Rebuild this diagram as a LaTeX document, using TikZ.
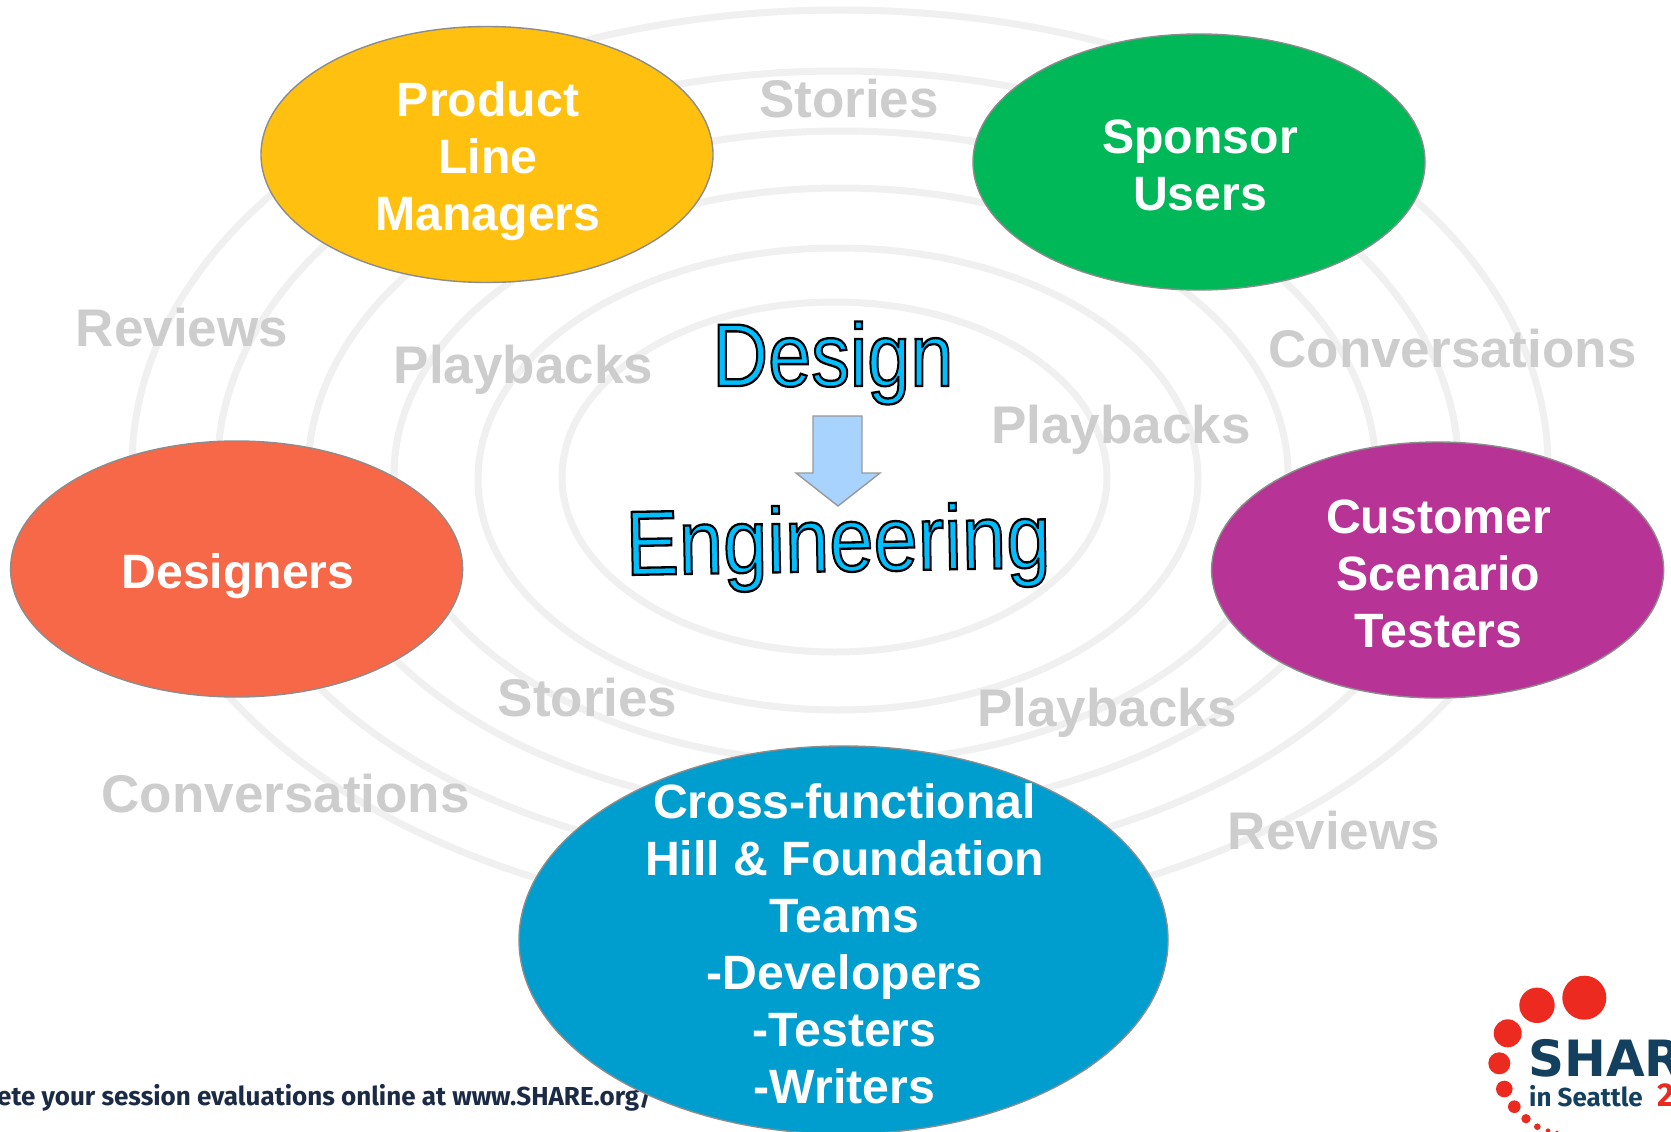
\documentclass[tikz,border=0pt]{standalone}
\usepackage{fontspec}
\setmainfont{Liberation Sans}
\newfontfamily\fira{Fira Sans}
\newfontfamily\dejavu{DejaVu Sans}
\usetikzlibrary{shapes.geometric}
\definecolor{ringc}{HTML}{F0F0F0}
\definecolor{lblc}{HTML}{CDCDCD}
\definecolor{ogold}{HTML}{FFC010}
\definecolor{ogreen}{HTML}{00B858}
\definecolor{ored}{HTML}{F66848}
\definecolor{opurple}{HTML}{B83396}
\definecolor{oblue}{HTML}{009DCF}
\definecolor{arrowc}{HTML}{A9D3FF}
\definecolor{foot}{HTML}{1C2B45}
\definecolor{logob}{HTML}{14405F}
\definecolor{logor}{HTML}{EC2A20}
\newcommand{\outl}[1]{\special{pdf:code q 2 Tr 2 w 0 0 0 RG 0 0.75 1 rg}#1\special{pdf:code Q}}
\tikzset{
  ring/.style={draw=ringc,line width=7pt},
  oval/.style={ellipse,draw=black!45,line width=1.4pt,inner sep=0pt,minimum width=452pt,minimum height=256pt},
  ovaltext/.style={text=white,align=center,inner sep=0pt,font=\fontsize{48.2}{57}\selectfont\bfseries},
  lbl/.style={text=lblc,inner sep=0pt,font=\fontsize{53}{60}\selectfont\bfseries},
  big/.style={inner sep=0pt,anchor=base west},
  dot/.style={fill=logor,draw=none}
}
\begin{document}
\begin{tikzpicture}[x=1pt,y=-1pt]
\useasboundingbox (0,0) rectangle (1671,1132);
\clip (0,0) rectangle (1671,1132);
\fill[white] (0,0) rectangle (1671,1132);
\draw[ring] (834.5,477) ellipse [x radius=272.5pt,y radius=175pt];
\draw[ring] (838,479) ellipse [x radius=360pt,y radius=231pt];
\draw[ring] (841,475) ellipse [x radius=447pt,y radius=287pt];
\draw[ring] (842,472.5) ellipse [x radius=534pt,y radius=341.5pt];
\draw[ring] (838,469) ellipse [x radius=620.5pt,y radius=398pt];
\draw[ring] (840,466) ellipse [x radius=708pt,y radius=456pt];
\node[lbl] (s1) at (849,99) {Stories};
\node[lbl] (r1) at (182,328) {Reviews};
\node[lbl] (p1) at (523.5,369.5) {Playbacks};
\node[lbl] (p2) at (1121,430) {Playbacks};
\node[lbl] (c1) at (1452.5,348.5) {Conversations};
\node[lbl] (s2) at (587.5,698) {Stories};
\node[lbl] (p3) at (1107,713) {Playbacks};
\node[lbl] (c2) at (285.6,794) {Conversations};
\node[lbl] (r2) at (1334,831) {Reviews};
\node[oval,fill=ogold] (pm) at (487,154.5) {};
\node[ovaltext] (pmt) at (488,161) {Product\\Line\\Managers};
\node[oval,fill=ogreen] (su) at (1199,162) {};
\node[ovaltext] (sut) at (1200,165) {Sponsor\\Users};
\node[oval,fill=ored] (de) at (236.6,569) {};
\node[ovaltext] (det) at (238,576) {Designers};
\node[oval,fill=opurple] (cu) at (1437.6,570) {};
\node[ovaltext] (cut) at (1438.6,574) {Customer\\Scenario\\Testers};
\node[big,text=foot,font=\fontsize{26}{32}\selectfont\fira\bfseries] (foot) at (-3,1105) {ete your session evaluations online at www.SHARE.org/};
\node[oval,fill=oblue,minimum width=649pt,minimum height=388pt] (cf) at (843.5,940) {};
\node[ovaltext] (cft) at (844.5,943.5) {Cross-functional\\Hill \& Foundation\\Teams\\-Developers\\-Testers\\-Writers};
\node[big,font=\fontsize{77.5}{90}\selectfont] (dsg) at (712,386) {\scalebox{1}[1.15]{\outl{Design}}};
\node[big,font=\fontsize{79.6}{90}\selectfont,rotate=1] (eng) at (626,575) {\scalebox{1}[1.15]{\outl{Engineering}}};
\draw[draw=black!40,fill=arrowc,line width=1.4pt,line join=miter]
  (813,416) -- (862,416) -- (862,473) -- (880,473) -- (838,506) -- (796,473) -- (813,473) -- cycle;
\fill[dot] (1584.3,997.7) circle (22);
\fill[dot] (1537,1005.3) circle (17.7);
\fill[dot] (1507.7,1033.3) circle (14);
\fill[dot] (1499.3,1063.3) circle (11);
\fill[dot] (1504.3,1089) circle (8.3);
\fill[dot] (1514.3,1106.7) circle (6.3);
\fill[dot] (1526,1118.7) circle (4.7);
\fill[dot] (1537.3,1126.7) circle (3.3);
\fill[dot] (1548,1130.7) circle (2.3);
\fill[dot] (1557,1132) circle (1.7);
\node[big,text=logob,font=\fontsize{50}{52}\selectfont\dejavu\bfseries] (shr) at (1528,1076.7) {SHAR};
\node[big,text=logob,font=\fontsize{26}{28}\selectfont\fira\bfseries] (sea) at (1529,1106.5) {in Seattle};
\node[big,text=logor,font=\fontsize{33}{34}\selectfont\fira\bfseries] (yr) at (1657,1106.5) {2};
\end{tikzpicture}
\end{document}
